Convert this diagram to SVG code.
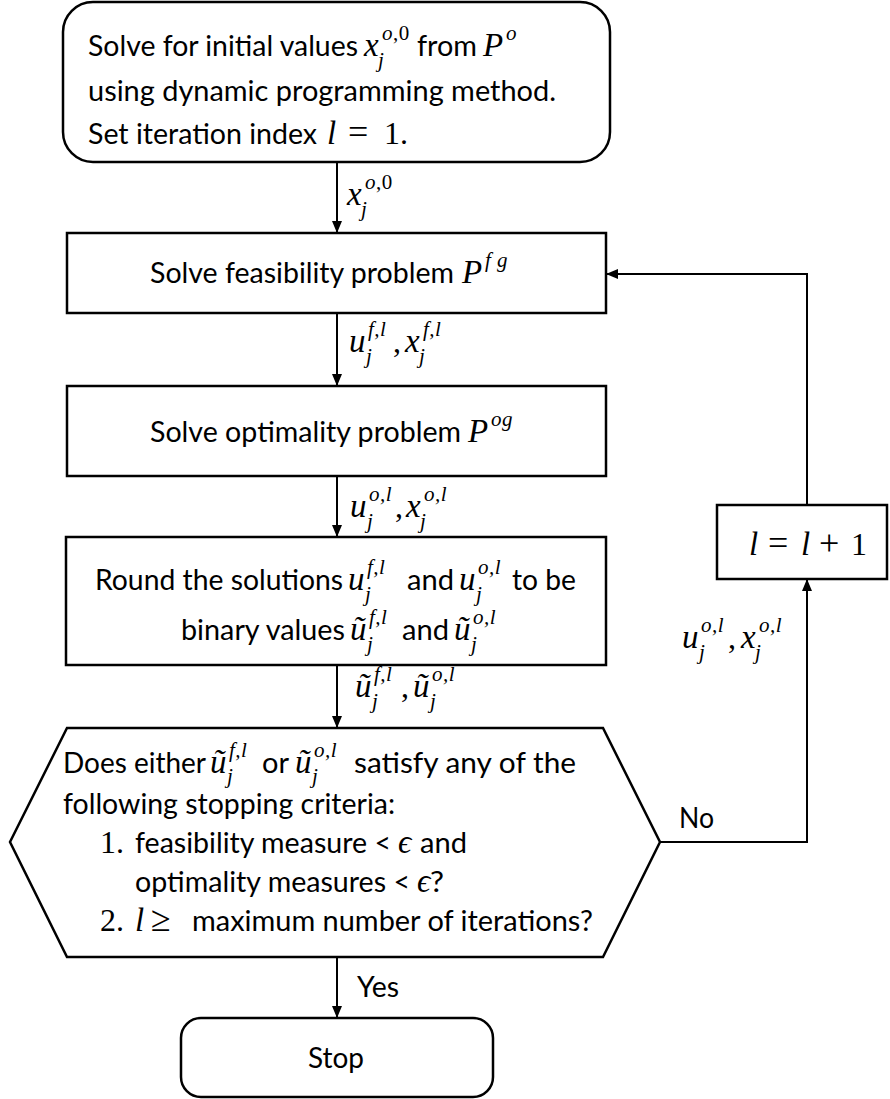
<svg xmlns="http://www.w3.org/2000/svg" width="890" height="1099" viewBox="0 0 890 1099">
  <defs>
    <marker id="arrow" viewBox="0 0 12 10" refX="12" refY="5" markerWidth="12" markerHeight="10" markerUnits="userSpaceOnUse" orient="auto">
      <path d="M0,0 L12,5 L0,10 Z" fill="#000"/>
    </marker>
  </defs>
  <style>
    .box { fill: #fff; stroke: #000; stroke-width: 2.5; }
    .edge { fill: none; stroke: #000; stroke-width: 2; }
    .t { font-family: Lato, "Open Sans", "Liberation Sans", sans-serif; font-size: 28px; fill: #000; }
    .m { font-family: "Liberation Serif", "DejaVu Serif", serif; font-style: italic; font-size: 33px; fill: #000; }
    .mu { font-family: "Liberation Serif", "DejaVu Serif", serif; font-size: 32px; fill: #000; }
    .op { font-family: "Liberation Serif", "DejaVu Serif", serif; font-size: 36px; fill: #000; }
    .ms { font-family: "Liberation Serif", "DejaVu Serif", serif; font-style: italic; font-size: 21px; letter-spacing: 0.5px; fill: #000; }
    .up { font-style: normal; }
  </style>
  <rect width="890" height="1099" fill="#fff"/>

  <!-- connectors -->
  <g id="connectors">
    <path class="edge" d="M337,162 V233" marker-end="url(#arrow)"/>
    <path class="edge" d="M337,313 V386" marker-end="url(#arrow)"/>
    <path class="edge" d="M337,476 V537" marker-end="url(#arrow)"/>
    <path class="edge" d="M337,665 V728" marker-end="url(#arrow)"/>
    <path class="edge" d="M337,957 V1018" marker-end="url(#arrow)"/>
    <path class="edge" d="M660,842 H807 V579" marker-end="url(#arrow)"/>
    <path class="edge" d="M807,505 V274 H606" marker-end="url(#arrow)"/>

    <!-- x_j^{o,0} -->
    <text class="m" x="347" y="205">x</text>
    <text class="ms" x="365" y="189">o<tspan class="up">,0</tspan></text>
    <text class="ms" x="361" y="216">j</text>

    <!-- u_j^{f,l}, x_j^{f,l} -->
    <text class="m" x="349" y="352">u</text>
    <text class="ms" x="368" y="336">f,l</text>
    <text class="ms" x="366" y="363">j</text>
    <text class="mu" x="393" y="352">,</text>
    <text class="m" x="405" y="352">x</text>
    <text class="ms" x="423" y="336">f,l</text>
    <text class="ms" x="419" y="363">j</text>

    <!-- u_j^{o,l}, x_j^{o,l} -->
    <text class="m" x="350" y="517">u</text>
    <text class="ms" x="369" y="501">o,l</text>
    <text class="ms" x="367" y="528">j</text>
    <text class="mu" x="395" y="517">,</text>
    <text class="m" x="406" y="517">x</text>
    <text class="ms" x="424" y="501">o,l</text>
    <text class="ms" x="420" y="528">j</text>

    <!-- rounded u values -->
    <text class="m" x="355" y="697">ũ</text>
    <text class="ms" x="374" y="681">f,l</text>
    <text class="ms" x="372" y="708">j</text>
    <text class="mu" x="401" y="697">,</text>
    <text class="m" x="413" y="697">ũ</text>
    <text class="ms" x="432" y="681">o,l</text>
    <text class="ms" x="430" y="708">j</text>

    <!-- loop label -->
    <text class="m" x="682" y="648">u</text>
    <text class="ms" x="701" y="632">o,l</text>
    <text class="ms" x="699" y="659">j</text>
    <text class="mu" x="728" y="648">,</text>
    <text class="m" x="741" y="648">x</text>
    <text class="ms" x="759" y="632">o,l</text>
    <text class="ms" x="755" y="659">j</text>

    <text class="t" x="357" y="997" textLength="42" lengthAdjust="spacingAndGlyphs">Yes</text>
    <text class="t" x="679" y="828" textLength="35" lengthAdjust="spacingAndGlyphs">No</text>
  </g>

  <!-- initialisation -->
  <g id="init">
    <rect class="box" x="63" y="2" width="547" height="160" rx="30" ry="30"/>
    <text class="t" x="88" y="56" textLength="270" lengthAdjust="spacingAndGlyphs">Solve for initial values</text>
    <text class="m" x="364" y="56">x</text>
    <text class="ms" x="382" y="40">o<tspan class="up">,0</tspan></text>
    <text class="ms" x="378" y="67">j</text>
    <text class="t" x="417" y="56" textLength="60" lengthAdjust="spacingAndGlyphs">from</text>
    <text class="m" x="483" y="56">P</text>
    <text class="ms" x="506" y="40">o</text>
    <text class="t" x="88" y="101" textLength="468" lengthAdjust="spacingAndGlyphs">using dynamic programming method.</text>
    <text class="t" x="88" y="144" textLength="229" lengthAdjust="spacingAndGlyphs">Set iteration index</text>
    <text class="m" x="327" y="144">l</text>
    <text class="op" x="348" y="144">=</text>
    <text class="mu" x="384" y="144">1.</text>
  </g>

  <!-- feasibility problem -->
  <g id="feasibility">
    <rect class="box" x="67" y="233" width="539" height="80"/>
    <text class="t" x="150" y="283" textLength="304" lengthAdjust="spacingAndGlyphs">Solve feasibility problem</text>
    <text class="m" x="462" y="283">P</text>
    <text class="ms" x="485" y="267">f g</text>
  </g>

  <!-- optimality problem -->
  <g id="optimality">
    <rect class="box" x="67" y="386" width="539" height="90"/>
    <text class="t" x="150" y="442" textLength="311" lengthAdjust="spacingAndGlyphs">Solve optimality problem</text>
    <text class="m" x="468" y="442">P</text>
    <text class="ms" x="491" y="426">og</text>
  </g>

  <!-- rounding -->
  <g id="rounding">
    <rect class="box" x="66" y="537" width="540" height="128"/>
    <text class="t" x="95" y="590" textLength="248" lengthAdjust="spacingAndGlyphs">Round the solutions</text>
    <text class="m" x="348" y="590">u</text>
    <text class="ms" x="367" y="574">f,l</text>
    <text class="ms" x="365" y="601">j</text>
    <text class="t" x="407" y="590" textLength="47" lengthAdjust="spacingAndGlyphs">and</text>
    <text class="m" x="459" y="590">u</text>
    <text class="ms" x="478" y="574">o,l</text>
    <text class="ms" x="476" y="601">j</text>
    <text class="t" x="512" y="590" textLength="64" lengthAdjust="spacingAndGlyphs">to be</text>
    <text class="t" x="181" y="640" textLength="164" lengthAdjust="spacingAndGlyphs">binary values</text>
    <text class="m" x="350" y="640">ũ</text>
    <text class="ms" x="369" y="624">f,l</text>
    <text class="ms" x="367" y="651">j</text>
    <text class="t" x="402" y="640" textLength="47" lengthAdjust="spacingAndGlyphs">and</text>
    <text class="m" x="454" y="640">ũ</text>
    <text class="ms" x="473" y="624">o,l</text>
    <text class="ms" x="471" y="651">j</text>
  </g>

  <!-- stopping test -->
  <g id="decision">
    <polygon class="box" points="67,728 603,728 660,842 603,957 67,957 10,842"/>
    <text class="t" x="63" y="773" textLength="143" lengthAdjust="spacingAndGlyphs">Does either</text>
    <text class="m" x="210" y="773">ũ</text>
    <text class="ms" x="229" y="757">f,l</text>
    <text class="ms" x="227" y="783">j</text>
    <text class="t" x="262" y="773" textLength="27" lengthAdjust="spacingAndGlyphs">or</text>
    <text class="m" x="295" y="773">ũ</text>
    <text class="ms" x="314" y="757">o,l</text>
    <text class="ms" x="312" y="783">j</text>
    <text class="t" x="354" y="773" textLength="222" lengthAdjust="spacingAndGlyphs">satisfy any of the</text>
    <text class="t" x="63" y="814" textLength="332" lengthAdjust="spacingAndGlyphs">following stopping criteria:</text>
    <text class="mu" x="100" y="853">1.</text>
    <text class="t" x="135" y="853" textLength="256" lengthAdjust="spacingAndGlyphs">feasibility measure &lt;</text>
    <text class="m" x="398" y="853">ϵ</text>
    <text class="t" x="420" y="853" textLength="47" lengthAdjust="spacingAndGlyphs">and</text>
    <text class="t" x="135" y="892" textLength="275" lengthAdjust="spacingAndGlyphs">optimality measures &lt;</text>
    <text class="m" x="417" y="892">ϵ</text>
    <text class="t" x="430" y="892" textLength="14" lengthAdjust="spacingAndGlyphs">?</text>
    <text class="mu" x="100" y="931">2.</text>
    <text class="m" x="135" y="931">l</text>
    <text class="op" x="151" y="931">≥</text>
    <text class="t" x="192" y="931" textLength="401" lengthAdjust="spacingAndGlyphs">maximum number of iterations?</text>
  </g>

  <!-- iteration update -->
  <g id="increment">
    <rect class="box" x="717" y="505" width="170" height="74"/>
    <text class="m" x="749" y="555">l</text>
    <text class="op" x="768" y="555">=</text>
    <text class="m" x="801" y="555">l</text>
    <text class="op" x="819" y="555">+</text>
    <text class="mu" x="851" y="555">1</text>
  </g>

  <!-- end -->
  <g id="stop">
    <rect class="box" x="181" y="1018" width="312" height="79" rx="20" ry="20"/>
    <text class="t" x="308" y="1068" textLength="56" lengthAdjust="spacingAndGlyphs">Stop</text>
  </g>
</svg>
